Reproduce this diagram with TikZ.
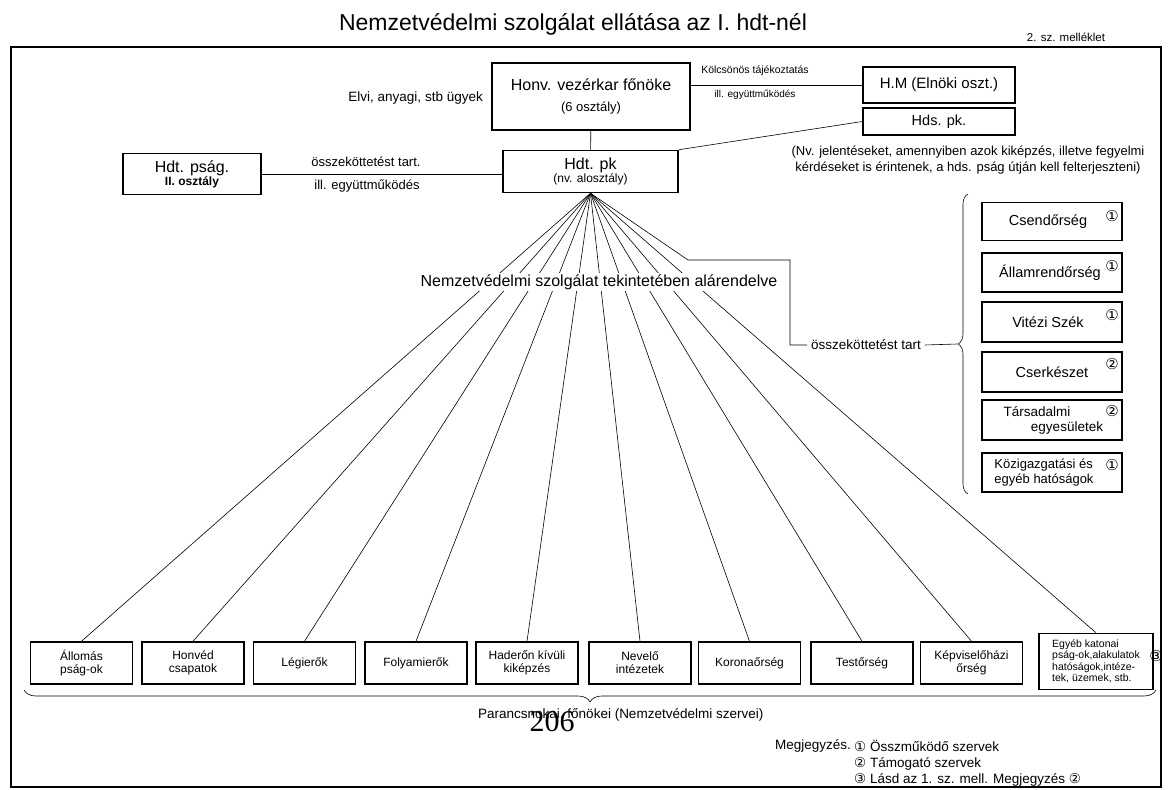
\documentclass[tikz,border=0pt]{standalone}
\usepackage{fontspec}
\setmainfont{Liberation Sans}
\newfontfamily\korfont{DejaVu Sans}
\newfontfamily\szamfont{Liberation Serif}
\usetikzlibrary{decorations.pathreplacing}
\tikzset{
	doboz/.style={draw, line width=1.5pt, inner sep=1pt, align=center},
	vonal/.style={line width=0.6pt},
	felirat/.style={inner sep=1pt, align=center},
	karika/.style={inner sep=0pt, font=\korfont\fontsize{15}{15}\selectfont},
}
\begin{document}
\begin{tikzpicture}[x=1pt,y=-1pt]
		\useasboundingbox (0,0) rectangle (1171,790);
		\draw[line width=1.3pt] (11,47) rectangle (1161,787);
		
		\node[felirat, font=\fontsize{23}{26}\selectfont] (cim) at (573,24) {Nemzetvédelmi szolgálat ellátása az I. hdt-nél};
		\node[felirat, font=\fontsize{11.5}{13}\selectfont] (mell) at (1066,37) {2. sz. melléklet};
		
		% felso resz
		\node[doboz, minimum width=198, minimum height=67] (vkf) at (591,96.5) {\fontsize{16}{18}\selectfont Honv. vezérkar főnöke\\[9pt]\fontsize{13}{15}\selectfont (6 osztály)};
		\node[felirat, anchor=east, font=\fontsize{13.5}{15}\selectfont] (elvi) at (484,98) {Elvi, anyagi, stb ügyek};
		\node[doboz, minimum width=152, minimum height=36, font=\fontsize{15}{17}\selectfont] (hm) at (939,85) {H.M (Elnöki oszt.)};
		\node[doboz, minimum width=152, minimum height=27, font=\fontsize{14.5}{16}\selectfont] (hds) at (939,121.5) {Hds. pk.};
		\node[doboz, minimum width=175, minimum height=42] (hdtpk) at (590.5,171.5) {\fontsize{16}{18}\selectfont Hdt. pk\\\fontsize{12}{14}\selectfont (nv. alosztály)};
		\node[doboz, minimum width=138, minimum height=41] (hdtpsag) at (192,174) {\fontsize{16}{17}\selectfont Hdt. pság.\\\fontsize{12}{13}\selectfont\bfseries II. osztály};
		
		\draw[vonal] (vkf) -- (hdtpk);
		\draw[vonal] (hm.west) -- (hm.west -| vkf.east);
		\draw[vonal] (hdtpsag.east) -- (hdtpsag.east -| hdtpk.west);
		\draw[vonal] (hdtpk.north east) -- (hds.west);
		
		\node[felirat, font=\fontsize{10.5}{12}\selectfont] (kolcs1) at (755,71) {Kölcsönös tájékoztatás};
		\node[felirat, font=\fontsize{10}{12}\selectfont] (kolcs2) at (755,95) {ill. együttműködés};
		\node[felirat, font=\fontsize{13}{15}\selectfont] (ossz1) at (366,162) {összeköttetést tart.};
		\node[felirat, font=\fontsize{13}{15}\selectfont] (ossz2) at (367,186) {ill. együttműködés};
		\node[felirat, font=\fontsize{13}{15.5}\selectfont] (nvjel) at (968,160) {(Nv. jelentéseket, amennyiben azok kiképzés, illetve fegyelmi\\kérdéseket is érintenek, a hds. pság útján kell felterjeszteni)};
		
		% jobb oldali oszlop
		\node[doboz, minimum width=140, minimum height=38, font=\fontsize{14.5}{16}\selectfont] (csend) at (1052,221.5) {Csendőrség\hspace*{8pt}};
		\node[doboz, minimum width=140, minimum height=39, font=\fontsize{14.5}{16}\selectfont] (allam) at (1052,272.5) {Államrendőrség\hspace*{4pt}};
		\node[doboz, minimum width=140, minimum height=40, font=\fontsize{14.5}{16}\selectfont] (vitez) at (1052,322) {Vitézi Szék\hspace*{8pt}};
		\node[doboz, minimum width=140, minimum height=40, font=\fontsize{14.5}{16}\selectfont] (cserk) at (1052,372) {Cserkészet};
		\node[doboz, minimum width=140, minimum height=40, font=\fontsize{13.5}{15}\selectfont] (tars) at (1052,420) {Társadalmi\hspace*{30pt}\\\hspace*{30pt}egyesületek};
		\node[doboz, minimum width=140, minimum height=39, font=\fontsize{13}{15}\selectfont, align=left] (kozig) at (1052,472.5) {Közigazgatási és\hspace*{16pt}\\egyéb hatóságok\hspace*{16pt}};
		
		\node[karika] (csendk) at (1112,216) {①};
		\node[karika] (allamk) at (1112,266) {①};
		\node[karika] (vitezk) at (1112,315) {①};
		\node[karika] (cserkk) at (1112,364) {②};
		\node[karika] (tarsk) at (1112,411) {②};
		\node[karika] (kozigk) at (1112,465) {①};
		
		\draw[vonal, decorate, decoration={brace, amplitude=10pt}] (968,494) -- (968,194);
		\coordinate (kapocs) at (957,344);
		
		% also sor
		\node[doboz, minimum width=102, minimum height=42, font=\fontsize{12}{13}\selectfont] (b1) at (81.5,663) {Állomás\\pság-ok};
		\node[doboz, minimum width=102, minimum height=42, font=\fontsize{12}{13}\selectfont] (b2) at (193,663) {Honvéd\\csapatok};
		\node[doboz, minimum width=102, minimum height=42, font=\fontsize{12}{13}\selectfont] (b3) at (304.5,663) {Légierők};
		\node[doboz, minimum width=102, minimum height=42, font=\fontsize{12}{13}\selectfont] (b4) at (416,663) {Folyamierők};
		\node[doboz, minimum width=102, minimum height=42, font=\fontsize{12}{13}\selectfont] (b5) at (527,663) {Haderőn kívüli\\kiképzés};
		\node[doboz, minimum width=102, minimum height=42, font=\fontsize{12}{13}\selectfont] (b6) at (640,663) {Nevelő\\intézetek};
		\node[doboz, minimum width=102, minimum height=42, font=\fontsize{12}{13}\selectfont] (b7) at (749.5,663) {Koronaőrség};
		\node[doboz, minimum width=102, minimum height=42, font=\fontsize{12}{13}\selectfont] (b8) at (862,663) {Testőrség};
		\node[doboz, minimum width=102, minimum height=42, font=\fontsize{12}{13}\selectfont] (b9) at (971.5,663) {Képviselőházi\\őrség};
		\node[doboz, minimum width=114, minimum height=56, font=\fontsize{10.5}{11.5}\selectfont, align=left] (b10) at (1096,661.5) {Egyéb katonai\\pság-ok,alakulatok\\hatóságok,intéze-\\tek, üzemek, stb.};
		\node[karika] (b10k) at (1156,656) {③};
		
		% legyezo
		\coordinate (fan) at (hdtpk.south);
		\draw[vonal] (fan) -- (b1.north);
		\draw[vonal] (fan) -- (b2.north);
		\draw[vonal] (fan) -- (b3.north);
		\draw[vonal] (fan) -- (b4.north);
		\draw[vonal] (fan) -- (b5.north);
		\draw[vonal] (fan) -- (b6.north);
		\draw[vonal] (fan) -- (b7.north);
		\draw[vonal] (fan) -- (b8.north);
		\draw[vonal] (fan) -- (b9.north);
		\draw[vonal] (fan) -- (b10.north);
		
		\coordinate (tores) at (688,260);
		\coordinate (sarok) at (790,260);
		\node[felirat, inner sep=4pt, font=\fontsize{13.5}{15}\selectfont] (osszk) at (866,345) {összeköttetést tart};
		\draw[vonal] (fan) -- (tores) -- (sarok) |- (osszk.west);
		\draw[vonal] (osszk.east) -- (kapocs);
		
		\node[felirat, fill=white, font=\fontsize{16}{18}\selectfont] (alarend) at (599,282) {Nemzetvédelmi szolgálat tekintetében alárendelve};
		
		% alul
		\draw[vonal, decorate, decoration={brace, amplitude=12pt, mirror}] (24,690) -- (1156,690);
		\node[felirat, anchor=west, font=\fontsize{13.5}{15}\selectfont] (paranc) at (477,715) {Parancsnokai, főnökei (Nemzetvédelmi szervei)};
		\node[inner sep=0pt, font=\szamfont\fontsize{30}{30}\selectfont] (oldal) at (552,722) {206};
		
		\node[felirat, anchor=east, font=\fontsize{13.5}{15}\selectfont] (megj) at (852,746) {Megjegyzés.};
		\node[felirat, anchor=west, font=\fontsize{13.5}{15}\selectfont] (m1) at (853,746) {{\korfont ①} Összműködő szervek};
		\node[felirat, anchor=west, font=\fontsize{13.5}{15}\selectfont] (m2) at (853,764) {{\korfont ②} Támogató szervek};
		\node[felirat, anchor=west, font=\fontsize{13.5}{15}\selectfont] (m3) at (853,780) {{\korfont ③} Lásd az 1. sz. mell. Megjegyzés {\korfont ②}};
	\end{tikzpicture}
\end{document}
